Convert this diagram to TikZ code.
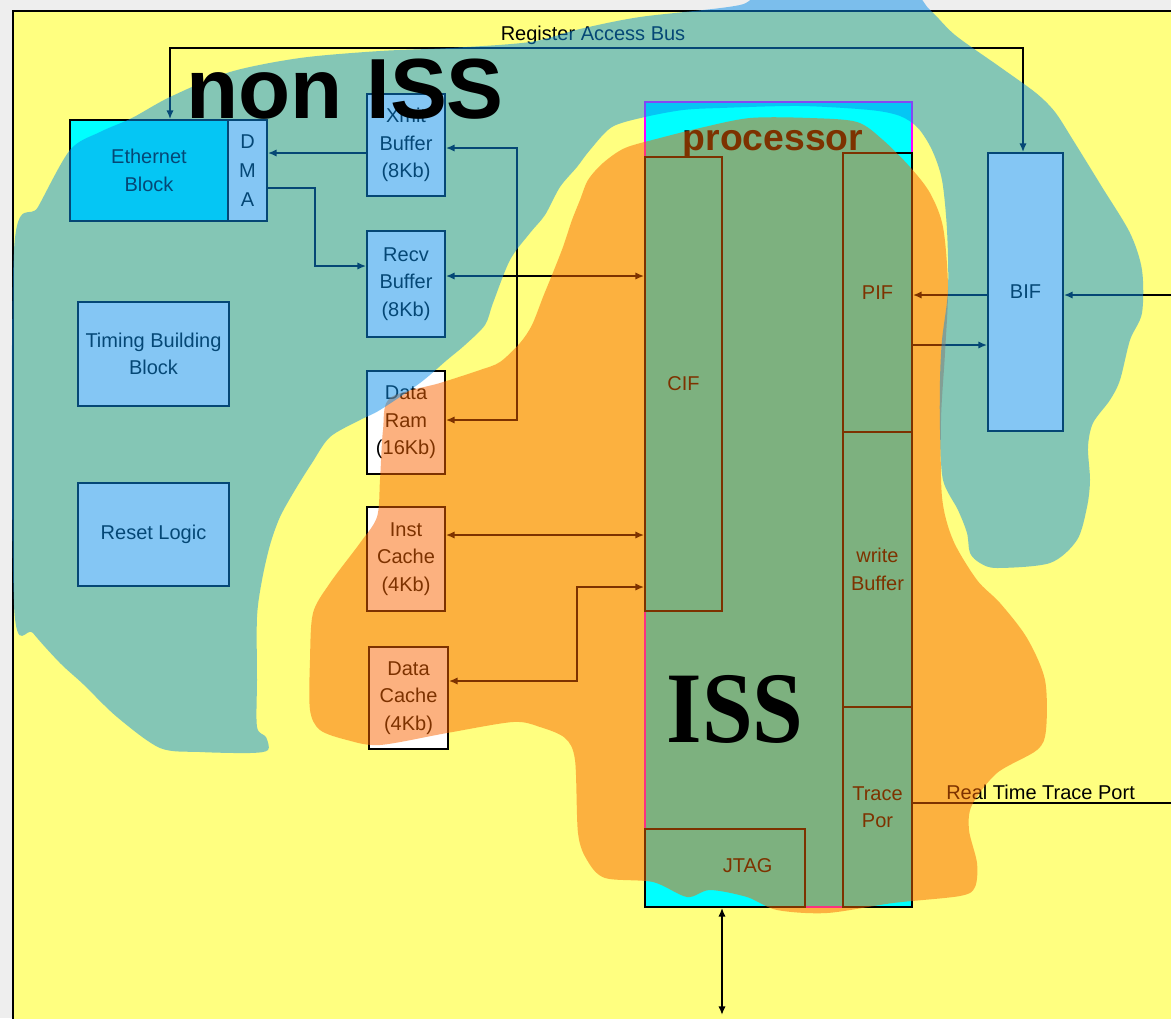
\documentclass[tikz,border=0pt]{standalone}
\usepackage{fontspec}
\setmainfont{Liberation Sans}
\newfontfamily\issserif{Liberation Serif}
\usetikzlibrary{arrows.meta,fit}
\definecolor{bgray}{RGB}{238,238,238}
\definecolor{pyellow}{RGB}{255,255,128}
\definecolor{tealblob}{RGB}{10,143,235}
\definecolor{orangeblob}{RGB}{250,100,0}
\definecolor{pcyan}{RGB}{0,255,255}
\definecolor{pmag}{RGB}{255,0,255}
\newcommand\lblfont{\fontsize{15}{20.5}\selectfont}
\begin{document}
\begin{tikzpicture}[x=0.75pt,y=-0.75pt,
  box/.style={draw=black,line width=1.3pt,fill=white,inner sep=0pt},
  sub/.style={draw=black,line width=1.3pt,inner sep=0pt},
  txt/.style={inner sep=0pt,font=\lblfont,align=center},
  lab/.style={label={[txt]center:{#1}}},
  wire/.style={draw=black,line width=1.3pt},
  arr/.style={wire,-{Latex[length=6.5pt,width=5.5pt]}},
  darr/.style={wire,{Latex[length=6.5pt,width=5.5pt]}-{Latex[length=6.5pt,width=5.5pt]}},
  orangeb/.style={fill=orangeblob,fill opacity=0.5,draw=none},
  tealb/.style={fill=tealblob,fill opacity=0.5,draw=none}]
\clip (0,0) rectangle (1171,1018);
% background and frame
\fill[bgray] (0,0) rectangle (1171,1018);
\fill[pyellow] (13,11) rectangle (1175,1022);
\draw[black,line width=1.5pt] (13,1022) -- (13,11) -- (1175,11);

% processor
\node[draw=pmag,fill=pcyan,line width=1.3pt,inner sep=0pt,fit={(645,102) (912,907)}] (proc) {};
\node[anchor=base,inner sep=0pt,font=\bfseries\fontsize{28}{28}\selectfont] (ptitle) at (773,150) {processor};
\node[sub,fit={(645,157) (722,611)},lab={CIF}] (cif) {};
\node[sub,fit={(843,153) (912,432)},lab={PIF}] (pif) {};
\node[sub,fit={(843,432) (912,707)},lab={write\\Buffer}] (wbuf) {};
\node[sub,fit={(843,707) (912,907)},lab={Trace\\Por}] (trace) {};
\node[sub,fit={(645,829) (805,907)},label={[txt,xshift=17pt,yshift=2pt]center:JTAG}] (jtag) {};

% left blocks
\node[box,fill=pcyan,fit={(70,120) (228,221)},lab={Ethernet\\Block}] (eth) {};
\node[box,fit={(228,120) (267,221)},label={[txt,font=\fontsize{15}{21.5}\selectfont]center:{D\\M\\A}}] (dma) {};
\node[box,fit={(367,94) (445,196)},lab={Xmit\\Buffer\\(8Kb)}] (xmit) {};
\node[box,fit={(367,231) (445,337)},lab={Recv\\Buffer\\(8Kb)}] (recv) {};
\node[box,fit={(78,302) (229,406)},lab={Timing Building\\Block}] (timing) {};
\node[box,fit={(78,483) (229,586)},lab={Reset Logic}] (reset) {};
\node[box,fit={(367,371) (445,474)},lab={Data\\Ram\\(16Kb)}] (dram) {};
\node[box,fit={(367,507) (445,611)},lab={Inst\\Cache\\(4Kb)}] (icache) {};
\node[box,fit={(369,647) (448,749)},lab={Data\\Cache\\(4Kb)}] (dcache) {};
\node[box,fit={(988,153) (1063,431)},lab={BIF}] (bif) {};

% connectors
\coordinate (busL) at (170,48);
\coordinate (busR) at (1023,48);
\draw[darr] (busL |- eth.north) -- (busL) -- (busR) -- (busR |- bif.north);
\node[txt,anchor=base] (rab) at (593,40) {Register Access Bus};
\draw[arr] (xmit.west |- 0,153) -- (dma.east |- 0,153);
\coordinate (k1) at (315,188);
\draw[arr] (dma.east |- k1) -- (k1) |- (recv.west |- 0,266);
\coordinate (k2) at (517,148);
\coordinate (k3) at (517,420);
\draw[darr] (xmit.east |- k2) -- (k2) -- (k3) -- (dram.east |- k3);
\draw[darr] (recv.east |- 0,276) -- (cif.west |- 0,276);
\draw[darr] (icache.east |- 0,535) -- (cif.west |- 0,535);
\coordinate (k4) at (577,681);
\coordinate (k5) at (577,587);
\draw[darr] (dcache.east |- k4) -- (k4) -- (k5) -- (cif.west |- k5);
\draw[arr] (bif.west |- 0,295) -- (pif.east |- 0,295);
\draw[arr] (pif.east |- 0,345) -- (bif.west |- 0,345);
\coordinate (inR) at (1174,295);
\draw[arr] (inR) -- (bif.east |- inR);
\coordinate (outR) at (1174,803);
\draw[wire] (trace.east |- outR) -- (outR);
\node[txt,anchor=base west] (rtp) at (946,799) {Real Time Trace Port};
\coordinate (outB) at (722,1015);
\draw[darr] (proc.south -| outB) -- (outB);

% orange blob
\fill[orangeb] plot[smooth cycle,tension=0.5] coordinates {
(580,200) (588,180) (603,163) (625,148) (660,138) (700,128) (750,118) (810,118)
(857,122) (883,140) (910,167) (930,193) (943,227) (948,287) (945,353) (941,420)
(942,497) (953,540) (977,580) (1000,603) (1027,638) (1045,680) (1046,730) (1037,750)
(997,773) (972,805) (969,830) (977,863) (975,887) (960,896) (893,903) (827,913)
(777,910) (747,897) (710,890) (687,897) (653,882) (605,878) (587,860) (578,833)
(575,760) (565,738) (540,727) (513,722) (447,733) (380,745) (347,740) (320,730)
(310,710) (310,660) (313,613) (330,583) (360,543) (377,517) (380,480) (383,430)
(390,398) (440,383) (480,370) (500,362) (520,343) (532,325) (543,297) (552,275)
(563,247) (572,220)};
% teal blob
\fill[tealb] plot[smooth cycle,tension=0.5] coordinates {
(14,250) (38,207) (70,150) (100,132) (132,118) (170,97) (230,72) (300,58)
(380,51) (450,48) (530,42) (580,29) (640,17) (740,5) (770,-12) (900,-12) (930,10)
(955,35) (1000,67) (1036,93) (1055,112) (1073,140) (1102,187) (1130,233) (1142,270)
(1142,313) (1130,340) (1120,380) (1110,400) (1093,423) (1088,447) (1090,480) (1087,507)
(1077,540) (1050,563) (997,568) (980,563) (970,553) (967,533) (958,510) (943,480)
(940,430) (940,380) (942,340) (948,290) (947,230) (942,180) (932,150) (918,128)
(900,116) (870,110) (800,106) (720,108) (683,110) (645,117) (612,127) (590,150)
(577,167) (560,187) (545,215) (530,233) (510,260) (493,303) (485,325) (465,345)
(447,360) (420,383) (380,410) (360,420) (330,437) (312,463) (295,490) (280,517)
(270,545) (262,580) (257,617) (257,680) (257,727) (266,737) (268,750) (250,753)
(200,752) (160,748) (117,717) (83,684) (60,663) (33,633) (14,605)};

% big overlay labels
\node[anchor=base west,inner sep=0pt,font=\bfseries\fontsize{64}{64}\selectfont] (noniss) at (186,118) {non ISS};
\node[anchor=base,inner sep=0pt] (iss) at (735,742) {\scalebox{0.9}[1]{\issserif\bfseries\fontsize{76}{76}\selectfont ISS}};
\end{tikzpicture}
\end{document}
